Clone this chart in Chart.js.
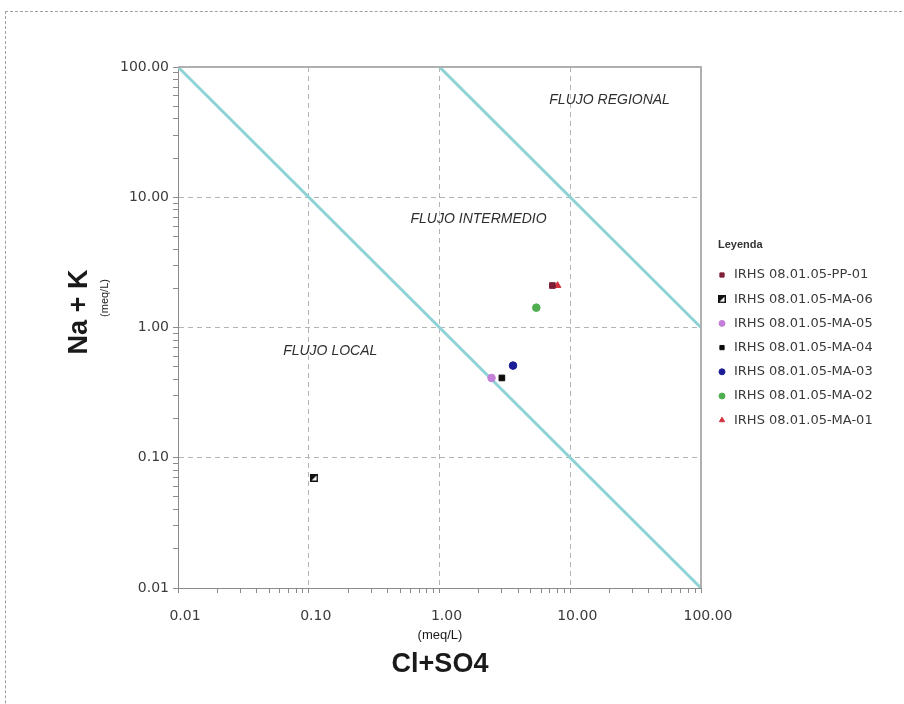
<!DOCTYPE html>
<html>
<head>
<meta charset="utf-8">
<title>Na+K vs Cl+SO4</title>
<script src="https://cdn.jsdelivr.net/npm/chart.js@4.4.1/dist/chart.umd.min.js"></script>
<style>
    html, body { margin: 0; padding: 0; background: #fff; }
    body { position: relative; width: 904px; height: 704px; overflow: hidden; }
    #frame { position: absolute; left: 5px; top: 11px; width: 1000px; height: 1000px; border: 1px dashed #a0a0a0; }
    #wrap { position: absolute; left: 0; top: 0; width: 904px; height: 704px; }
</style>
</head>
<body>
<div id="frame"></div>
<div id="wrap"><canvas id="chart" width="904" height="704"></canvas></div>
<script>
// Samples (meq/L)
const samples = [
    'IRHS 08.01.05-PP-01',
    'IRHS 08.01.05-MA-06',
    'IRHS 08.01.05-MA-05',
    'IRHS 08.01.05-MA-04',
    'IRHS 08.01.05-MA-03',
    'IRHS 08.01.05-MA-02',
    'IRHS 08.01.05-MA-01'
];
const clSo4 = [7.3, 0.11, 2.5, 3.0, 3.65, 5.5, 8.0];
const naK = [2.1, 0.07, 0.41, 0.41, 0.51, 1.42, 2.1];

const sampleColors = ['#7d1f36', '#111111', '#c47fd8', '#0c0c0c', '#1c1c96', '#4fae4f', '#d2303c'];
const sampleStyles = ['rect', 'half', 'circle', 'rect', 'circle', 'circle', 'triangle'];

// Decade ticks on both log axes
const decades = [0.01, 0.1, 1, 10, 100];
const tickLabels = ['0.01', '0.10', '1.00', '10.00', '100.00'];

// Flow boundaries: Na+K * (Cl+SO4) = 1 and = 100
const localLimit = [{ x: 0.01, y: 100 }, { x: 100, y: 0.01 }];
const regionalLimit = [{ x: 1, y: 100 }, { x: 100, y: 1 }];

// Zone names and where they sit (data units)
const zones = ['FLUJO REGIONAL', 'FLUJO INTERMEDIO', 'FLUJO LOCAL'];
const zoneAnchors = [[20, 56], [1.99, 6.75], [0.146, 0.654]];

const FONT = '"Liberation Sans", Arial, sans-serif';
const WIDE = '"DejaVu Sans", Verdana, sans-serif';

// square with the upper-left half filled
function halfSquare(size) {
    const c = document.createElement('canvas');
    c.width = size;
    c.height = size;
    const g = c.getContext('2d');
    g.fillStyle = '#fff';
    g.fillRect(0, 0, size, size);
    g.fillStyle = '#111';
    g.beginPath();
    g.moveTo(0, 0);
    g.lineTo(size, 0);
    g.lineTo(0, size);
    g.closePath();
    g.fill();
    g.strokeStyle = '#111';
    g.lineWidth = 1.5;
    g.strokeRect(0.75, 0.75, size - 1.5, size - 1.5);
    return c;
}

function isDecade(v) {
    const l = Math.log10(v);
    return Math.abs(l - Math.round(l)) < 1e-6;
}

function decadeLabel(v) {
    const i = decades.findIndex(d => Math.abs(Math.log10(d) - Math.log10(v)) < 1e-6);
    return i >= 0 ? tickLabels[i] : '';
}

// 1..9 per decade between the first and last decade
function logTicks() {
    const out = [];
    for (let i = 0; i < decades.length - 1; i++) {
        for (let k = 1; k <= 9; k++) out.push(decades[i] * k);
    }
    out.push(decades[decades.length - 1]);
    return out.map(v => ({ value: v }));
}

function innerGrid(ctx) {
    const v = ctx.tick && ctx.tick.value;
    if (v === undefined) return 'rgba(0,0,0,0)';
    const edge = Math.abs(v - decades[0]) < 1e-9 || Math.abs(v - decades[decades.length - 1]) < 1e-6;
    return isDecade(v) && !edge ? '#b4b4b4' : 'rgba(0,0,0,0)';
}

function logAxis(extra) {
    return Object.assign({
        type: 'logarithmic',
        min: decades[0],
        max: decades[decades.length - 1],
        afterBuildTicks: s => { s.ticks = logTicks(); },
        grid: {
            color: innerGrid,
            lineWidth: 1,
            tickColor: '#8a8a8a',
            tickLength: 5
        },
        border: {
            display: true,
            color: '#8a8a8a',
            width: 1,
            dash: ctx => ctx.type === 'tick' ? [5, 4] : []
        }
    }, extra);
}

const sampleSets = samples.map((name, i) => ({
    type: 'scatter',
    label: name,
    isSample: true,
    data: [{ x: clSo4[i], y: naK[i] }],
    pointStyle: sampleStyles[i] === 'half' ? halfSquare(8) : sampleStyles[i],
    pointRadius: sampleStyles[i] === 'rect' ? 4 : 3.8,
    backgroundColor: sampleColors[i],
    borderColor: sampleColors[i],
    borderWidth: 1,
    order: 1
}));

const limitSets = [localLimit, regionalLimit].map(pts => ({
    type: 'line',
    data: pts,
    borderColor: '#8dd3d5',
    borderWidth: 3,
    pointRadius: 0,
    fill: false,
    order: 10
}));

// legend, zone names and axis titles
const annotations = {
    id: 'annotations',
    afterDatasetsDraw(chart) {
        const ctx = chart.ctx;
        const xs = chart.scales.x;
        const ys = chart.scales.y;
        ctx.save();

        // frame on the top and right side
        const a = chart.chartArea;
        ctx.strokeStyle = '#b0b0b0';
        ctx.lineWidth = 2;
        ctx.beginPath();
        ctx.moveTo(a.left, a.top);
        ctx.lineTo(a.right, a.top);
        ctx.lineTo(a.right, a.bottom);
        ctx.stroke();

        ctx.fillStyle = '#2e2e2e';
        ctx.textAlign = 'center';
        ctx.textBaseline = 'middle';
        ctx.font = 'italic 14px ' + FONT;
        zones.forEach((z, i) => {
            ctx.fillText(z, xs.getPixelForValue(zoneAnchors[i][0]), ys.getPixelForValue(zoneAnchors[i][1]));
        });

        // x axis title
        ctx.fillStyle = '#1a1a1a';
        ctx.font = '13px ' + FONT;
        ctx.fillText('(meq/L)', 440, 635);
        ctx.font = 'bold 27px ' + FONT;
        ctx.fillText('Cl+SO4', 440, 665);

        // y axis title
        ctx.save();
        ctx.translate(80, 312);
        ctx.rotate(-Math.PI / 2);
        ctx.font = 'bold 27px ' + FONT;
        ctx.fillText('Na + K', 0, 0);
        ctx.restore();
        ctx.save();
        ctx.translate(105, 298);
        ctx.rotate(-Math.PI / 2);
        ctx.font = '11px ' + FONT;
        ctx.fillText('(meq/L)', 0, 0);
        ctx.restore();

        // legend
        ctx.textAlign = 'left';
        ctx.fillStyle = '#333';
        ctx.font = 'bold 11px ' + FONT;
        ctx.fillText('Leyenda', 718, 245);
        ctx.font = '13px ' + WIDE;
        chart.data.datasets.filter(d => d.isSample).forEach((ds, i) => {
            const y = 275 + i * 24.2;
            ctx.fillStyle = ds.backgroundColor;
            ctx.strokeStyle = ds.borderColor;
            ctx.lineWidth = 1;
            Chart.helpers.drawPoint(ctx, {
                pointStyle: ds.pointStyle,
                radius: 3,
                rotation: 0,
                borderWidth: 1
            }, 722, y);
            ctx.fillStyle = '#3a3a3a';
            ctx.fillText(ds.label, 734, y);
        });
        ctx.restore();
    }
};

new Chart(document.getElementById('chart').getContext('2d'), {
    data: { datasets: [...limitSets, ...sampleSets] },
    options: {
        responsive: false,
        animation: false,
        layout: { padding: { left: 0, right: 203, top: 67, bottom: 0 } },
        plugins: {
            legend: { display: false },
            tooltip: { enabled: false }
        },
        scales: {
            x: logAxis({
                position: 'bottom',
                afterFit: s => { s.height = 116; },
                ticks: {
                    autoSkip: false,
                    maxRotation: 0,
                    labelOffset: 7,
                    padding: 15,
                    color: '#3c3c3c',
                    font: { family: WIDE, size: 14 },
                    callback: v => decadeLabel(v)
                }
            }),
            y: logAxis({
                position: 'left',
                afterFit: s => { s.width = 178; },
                ticks: {
                    autoSkip: false,
                    padding: 4,
                    color: '#3c3c3c',
                    font: { family: WIDE, size: 14 },
                    callback: v => decadeLabel(v)
                }
            })
        }
    },
    plugins: [annotations]
});
</script>
</body>
</html>
